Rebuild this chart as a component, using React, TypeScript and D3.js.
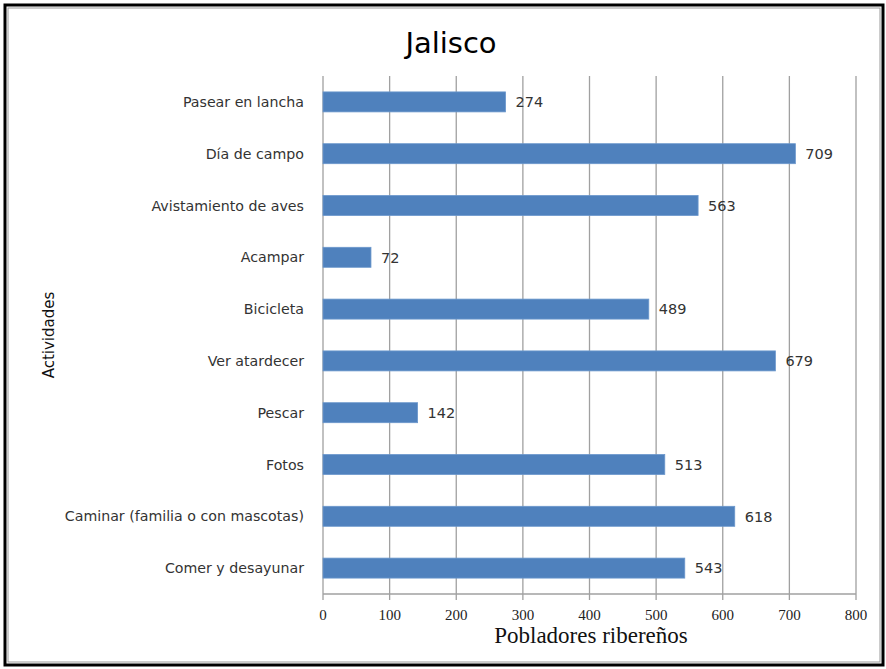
import React from "react";
import * as d3 from "d3";

const categories = [
  "Pasear en lancha",
  "Día de campo",
  "Avistamiento de aves",
  "Acampar",
  "Bicicleta",
  "Ver atardecer",
  "Pescar",
  "Fotos",
  "Caminar (familia o con mascotas)",
  "Comer y desayunar",
];
const values = [274, 709, 563, 72, 489, 679, 142, 513, 618, 543];
const xTicks = [0, 100, 200, 300, 400, 500, 600, 700, 800];
const title = "Jalisco";
const xTitle = "Pobladores ribereños";
const yTitle = "Actividades";

export default function App() {
  const W = 886, H = 669;
  const left = 323, right = 856, top = 76, bottom = 594;
  const x = d3.scaleLinear().domain([0, 800]).range([left, right]);
  const y = d3.scaleBand().domain(categories).range([top, bottom]).paddingInner(0.614).paddingOuter(0.307);
  const sans = "'DejaVu Sans', sans-serif";
  const serif = "'Liberation Serif', serif";
  return (
    <svg width={W} height={H} style={{ position: "absolute", left: 0, top: 0, background: "#fff" }}>
      <rect x={0} y={0} width={W} height={H} fill="#fff" />
      <rect x={5} y={5} width={878} height={660} fill="none" stroke="#000" strokeWidth={3} />
      <rect x={8} y={8} width={872} height={654} fill="none" stroke="#999" strokeWidth={1} />
      <text x={451} y={53} textAnchor="middle" fontFamily={sans} fontSize={29} fill="#000">{title}</text>
      {xTicks.map((t) => (
        <g key={t}>
          <line x1={x(t)} x2={x(t)} y1={top} y2={bottom + 6} stroke="#a0a0a0" strokeWidth={1.3} />
          <text x={x(t)} y={620} textAnchor="middle" fontFamily={serif} fontSize={15} fill="#222">{t}</text>
        </g>
      ))}
      <line x1={left} x2={right} y1={bottom} y2={bottom} stroke="#a0a0a0" strokeWidth={1.3} />
      {categories.map((c, i) => {
        const yy = y(c)!;
        const bw = y.bandwidth();
        return (
          <g key={c}>
            <rect x={x(0)} y={yy} width={x(values[i]) - x(0)} height={bw} fill="#4F81BD" stroke="#6b97cc" strokeWidth={0.8} />
            <text x={x(values[i]) + 10} y={yy + bw / 2} dy="0.36em" fontFamily={sans} fontSize={14.5} fill="#333">{values[i]}</text>
            <text x={304} y={yy + bw / 2} dy="0.36em" textAnchor="end" fontFamily={sans} fontSize={14.2} fill="#333">{c}</text>
          </g>
        );
      })}
      <text x={591} y={643} textAnchor="middle" fontFamily={serif} fontSize={23} fill="#111">{xTitle}</text>
      <text transform={`translate(54,335) rotate(-90)`} textAnchor="middle" fontFamily={sans} fontSize={15} fill="#111">{yTitle}</text>
    </svg>
  );
}
